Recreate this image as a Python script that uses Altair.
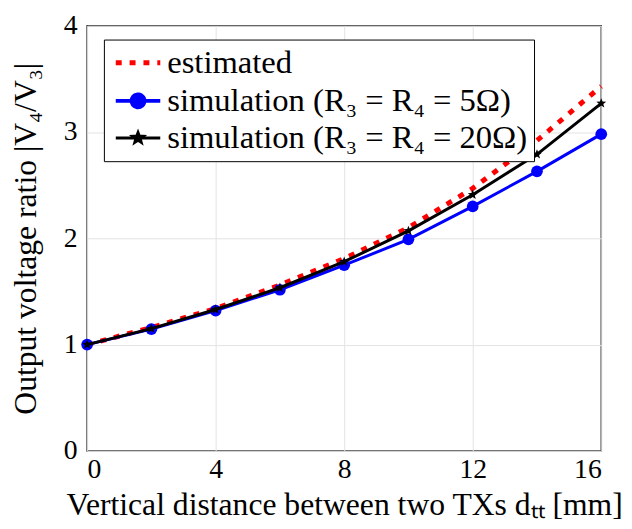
import altair as alt
import pandas as pd
import numpy as np

# ---- data ----
x_vals = [0, 2, 4, 6, 8, 10, 12, 14, 16]
estimated = [1.0, 1.16, 1.34, 1.56, 1.81, 2.10, 2.47, 2.92, 3.43]
sim_5 = [1.0, 1.145, 1.32, 1.516, 1.747, 1.99, 2.30, 2.63, 2.98]
sim_20 = [1.0, 1.15, 1.33, 1.535, 1.78, 2.07, 2.41, 2.79, 3.27]

series_names = [
    "estimated",
    "simulation (R₃ = R₄ = 5Ω)",
    "simulation (R₃ = R₄ = 20Ω)",
]
series_colors = ["#ff0000", "#0000ff", "#000000"]
x_ticks = [0, 4, 8, 12, 16]
y_ticks = [0, 1, 2, 3, 4]

rows = []
for name, vals in zip(series_names, [estimated, sim_5, sim_20]):
    for xv, yv in zip(x_vals, vals):
        rows.append({"x": xv, "y": yv, "series": name})
df = pd.DataFrame(rows)

# star marker path (unit radius)
ang = np.deg2rad(np.arange(10) * 36 - 90)
rad = np.where(np.arange(10) % 2 == 0, 1.0, 0.42)
star_pts = [(r * np.cos(a), r * np.sin(a)) for r, a in zip(rad, ang)]
STAR = "M" + "L".join(f"{px:.3f},{py:.3f}" for px, py in star_pts) + "Z"

def star_at(cx, r):
    return "M" + "L".join(f"{cx + px * r:.3f},{py * r:.3f}" for px, py in star_pts) + "Z"

LINE = "M-1.5,0H1.5"
CIRCLE_LEG = "M-1.5,0H1.5M0.43,0A0.43,0.43,0,1,1,-0.43,0A0.43,0.43,0,1,1,0.43,0Z"
STAR_LEG = "M-1.5,0H1.5" + star_at(0, 0.36)

FONT = "Liberation Serif"
TICK_FS = 28
TITLE_FS = 32
LEG_FS = 33

xs = alt.Scale(domain=[0, 16], nice=False, zero=False)
ys = alt.Scale(domain=[0, 4], nice=False, zero=False)

xenc = alt.X(
    "x:Q",
    scale=xs,
    axis=alt.Axis(
        values=x_ticks,
        title="Vertical distance between two TXs dₜₜ [mm]",
        format="d",
    ),
)
yenc = alt.Y(
    "y:Q",
    scale=ys,
    axis=alt.Axis(values=y_ticks, title="Output voltage ratio |V₄/V₃|", format="d"),
)

base = alt.Chart(df)

def only(name):
    return alt.datum.series == name

red_line = base.transform_filter(only(series_names[0])).mark_line(
    color="#ff0000", strokeWidth=5, strokeDash=[6, 8], strokeCap="butt"
).encode(x=xenc, y=yenc)

blue_line = base.transform_filter(only(series_names[1])).mark_line(
    color="#0000ff", strokeWidth=3
).encode(x=xenc, y=yenc)
blue_pts = base.transform_filter(only(series_names[1])).mark_point(
    shape="circle", filled=True, color="#0000ff", size=140, opacity=1
).encode(x=xenc, y=yenc)

black_line = base.transform_filter(only(series_names[2])).mark_line(
    color="#000000", strokeWidth=3
).encode(x=xenc, y=yenc)
black_pts = base.transform_filter(only(series_names[2])).mark_point(
    shape=STAR, filled=True, color="#000000", size=110, opacity=1
).encode(x=xenc, y=yenc)

legend = alt.Legend(
    orient="none",
    legendX=17,
    legendY=14,
    title=None,
    labelFont=FONT,
    labelFontSize=LEG_FS,
)

legend_layer = base.transform_filter("false").mark_point(filled=False, opacity=1).encode(
    x=xenc,
    y=yenc,
    color=alt.Color("series:N", scale=alt.Scale(domain=series_names, range=series_colors), legend=legend),
    fill=alt.Fill("series:N", scale=alt.Scale(domain=series_names, range=["transparent", "#0000ff", "#000000"]), legend=legend),
    shape=alt.Shape("series:N", scale=alt.Scale(domain=series_names, range=[LINE, CIRCLE_LEG, STAR_LEG]), legend=legend),
    strokeDash=alt.StrokeDash("series:N", scale=alt.Scale(domain=series_names, range=[[6, 8], [1, 0], [1, 0]]), legend=legend),
    strokeWidth=alt.StrokeWidth("series:N", scale=alt.Scale(domain=series_names, range=[5, 3, 3]), legend=legend),
)

chart = (
    alt.layer(red_line, blue_line, blue_pts, black_line, black_pts, legend_layer)
    .properties(width=520, height=430, padding={"left": 2, "top": 1, "right": 0, "bottom": 0})
    .configure(font=FONT)
    .configure_view(stroke="#333333", strokeWidth=1.5)
    .configure_axis(
        grid=True,
        gridColor="#e3e3e3",
        gridWidth=1,
        domain=False,
        ticks=False,
        labelFont=FONT,
        labelFontSize=TICK_FS,
        labelColor="black",
        titleFont=FONT,
        titleFontSize=TITLE_FS,
        titleFontWeight="normal",
        titleColor="black",
    )
    .configure_axisX(labelPadding=5, titlePadding=6)
    .configure_axisY(labelPadding=10, titlePadding=21)
    .configure_legend(
        strokeColor="black",
        fillColor="white",
        padding=6,
        rowPadding=4,
        labelFont=FONT,
        labelFontSize=LEG_FS,
        labelColor="black",
        labelLimit=600,
        symbolSize=900,
        symbolOffset=11,
        labelOffset=12,
    )
)

chart.save("out.html", embed_options={"renderer": "svg", "actions": False})
